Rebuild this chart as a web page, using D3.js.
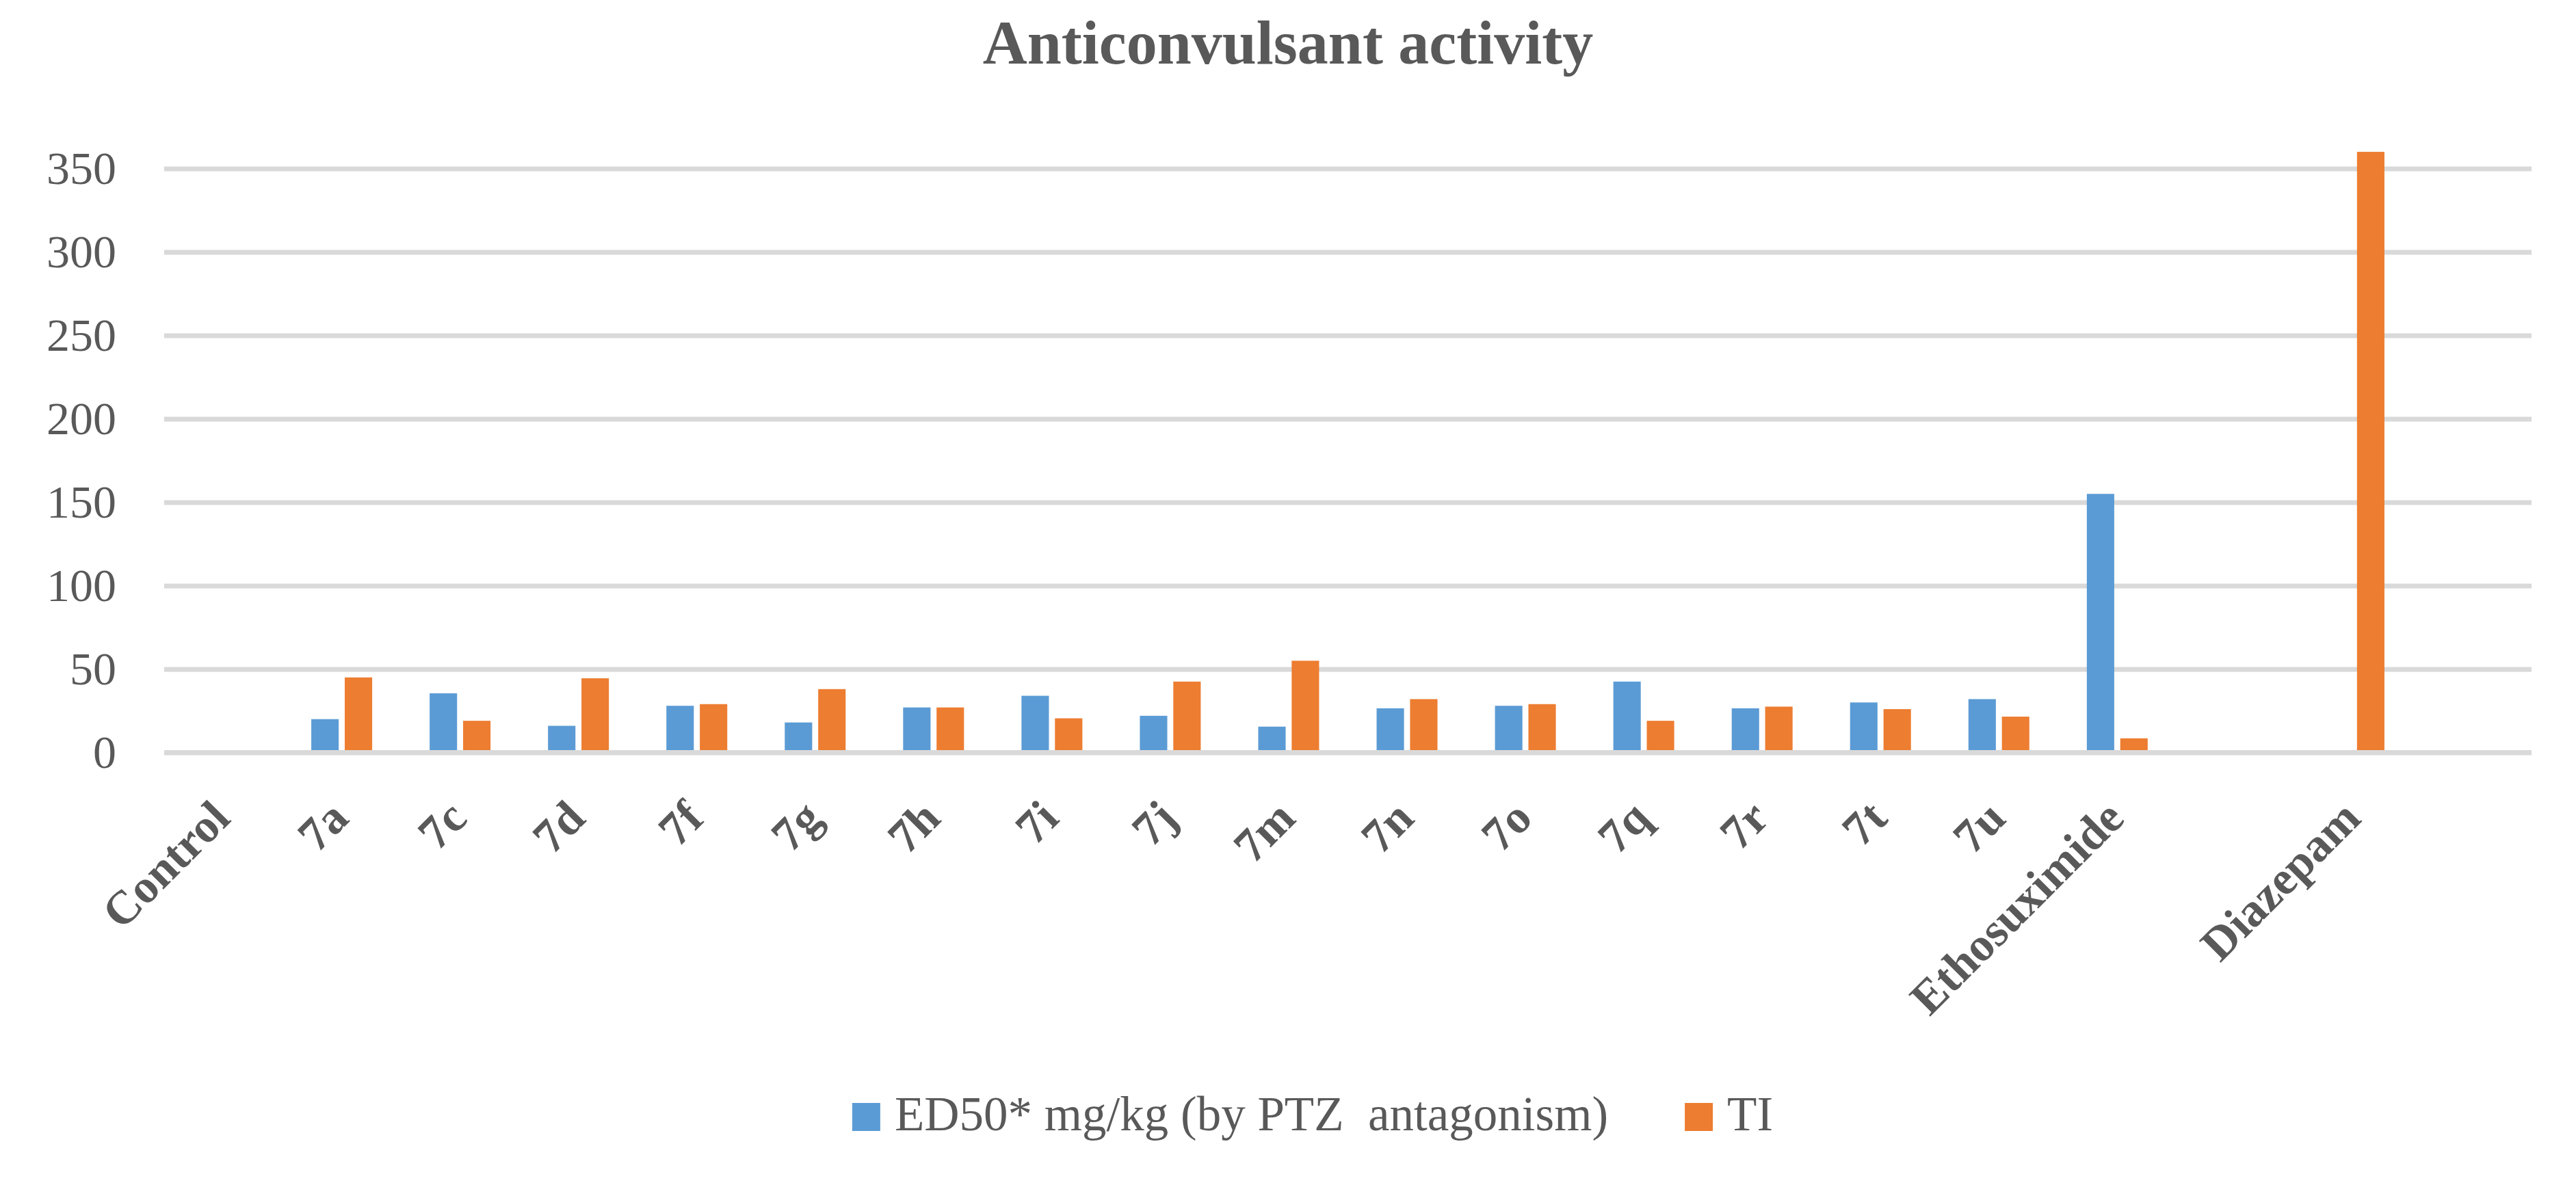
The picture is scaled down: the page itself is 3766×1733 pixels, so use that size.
<!DOCTYPE html>
<html>
<head>
<meta charset="utf-8">
<script src="https://cdn.jsdelivr.net/npm/d3@7"></script>
<style>
    body { margin: 0; background: #fff; }
    text { font-family: "Liberation Serif", "DejaVu Serif", serif; fill: #595959; }
</style>
</head>
<body>
<div id="chart"></div>
<script>
// categories (two blank slots like the original sheet)
const categories = ["Control", "7a", "7c", "7d", "7f", "7g", "7h", "7i", "7j", "7m", "7n", "7o", "7q", "7r", "7t", "7u", "Ethosuximide", "", "Diazepam", ""];
const ed50 = [null, 20, 35.5, 16, 28, 18, 27, 34, 22, 15.5, 26.5, 28, 42.5, 26.5, 30, 32, 155, null, null, null];
const ti = [null, 45, 19, 44.5, 29, 38, 27, 20.5, 42.5, 55, 32, 29, 19, 27.5, 26, 21.5, 8.5, null, 360, null];
const seriesNames = ["ED50* mg/kg (by PTZ  antagonism)", "TI"];
const seriesColors = ["#5B9BD5", "#ED7D31"];
const yTicks = [0, 50, 100, 150, 200, 250, 300, 350];

const width = 3766;
const height = 1733;
const plotLeft = 240, plotRight = 3701, plotTop = 246.5, plotBottom = 1100.5;

const svg = d3.select("#chart")
    .append("svg")
    .attr("width", width)
    .attr("height", height);

svg.append("rect").attr("width", width).attr("height", height).attr("fill", "#fff");

const x = d3.scaleBand()
    .domain(d3.range(categories.length))
    .range([plotLeft, plotRight])
    .padding(0);

const x1 = d3.scaleBand()
    .domain([0, 1])
    .range([-44.5, 44.5])
    .paddingInner(0.18);

const y = d3.scaleLinear()
    .domain([0, 350])
    .range([plotBottom, plotTop]);

// title
svg.append("text")
    .attr("x", width / 2)
    .attr("y", 93)
    .attr("text-anchor", "middle")
    .style("font-size", "90px")
    .style("font-weight", "bold")
    .text("Anticonvulsant activity");

// y axis with gridlines
const yAxis = svg.append("g")
    .attr("transform", `translate(${plotLeft},0)`)
    .call(d3.axisLeft(y).tickValues(yTicks).tickSize(-(plotRight - plotLeft)).tickPadding(70));

yAxis.select(".domain").remove();
yAxis.selectAll(".tick line")
    .attr("stroke", "#D9D9D9")
    .attr("stroke-width", 7);
yAxis.selectAll(".tick text")
    .attr("fill", "#595959")
    .attr("dy", "0.33em")
    .style("font-size", "68px")
    .style("font-family", "Liberation Serif");

// bars
const rows = categories.map((c, i) => ({ i, values: [ed50[i], ti[i]] }));

const groups = svg.selectAll(".grp")
    .data(rows)
    .join("g")
    .attr("class", "grp")
    .attr("transform", d => `translate(${x(d.i) + x.bandwidth() / 2},0)`);

groups.selectAll("rect")
    .data(d => d.values.map((v, s) => ({ s, v })).filter(e => e.v !== null))
    .join("rect")
    .attr("x", e => x1(e.s))
    .attr("width", x1.bandwidth())
    .attr("y", e => y(e.v))
    .attr("height", e => y(0) - y(e.v))
    .attr("fill", e => seriesColors[e.s]);

// category axis line drawn over the bars
svg.append("line")
    .attr("x1", plotLeft)
    .attr("x2", plotRight)
    .attr("y1", y(0))
    .attr("y2", y(0))
    .attr("stroke", "#D9D9D9")
    .attr("stroke-width", 7);

// x axis labels, rotated
const xAxis = svg.append("g")
    .attr("transform", `translate(0,${plotBottom})`)
    .call(d3.axisBottom(x).tickSize(0).tickFormat(i => categories[i]));

xAxis.select(".domain").remove();
xAxis.selectAll(".tick text")
    .attr("x", 13)
    .attr("y", 99.5)
    .attr("dy", 0)
    .attr("text-anchor", "end")
    .attr("transform", "rotate(-45, 13, 99.5)")
    .attr("fill", "#595959")
    .style("font-size", "69px")
    .style("font-weight", "bold")
    .style("font-family", "Liberation Serif");

// legend
const legend = svg.append("g");
const items = legend.selectAll("g")
    .data(seriesNames)
    .join("g");

items.append("rect")
    .attr("width", 41)
    .attr("height", 41)
    .attr("y", 1613)
    .attr("fill", (d, i) => seriesColors[i]);

items.append("text")
    .attr("x", 62)
    .attr("y", 1653)
    .style("font-size", "71px")
    .style("white-space", "pre")
    .text(d => d);

let cursor = 0;
const offsets = [];
items.each(function () {
    const w = d3.select(this).select("text").node().getComputedTextLength();
    offsets.push(cursor);
    cursor += 62 + w + 112;
});
const legendWidth = cursor - 112;
const legendStart = 1919 - legendWidth / 2;
items.attr("transform", (d, i) => `translate(${legendStart + offsets[i]},0)`);
</script>
</body>
</html>
